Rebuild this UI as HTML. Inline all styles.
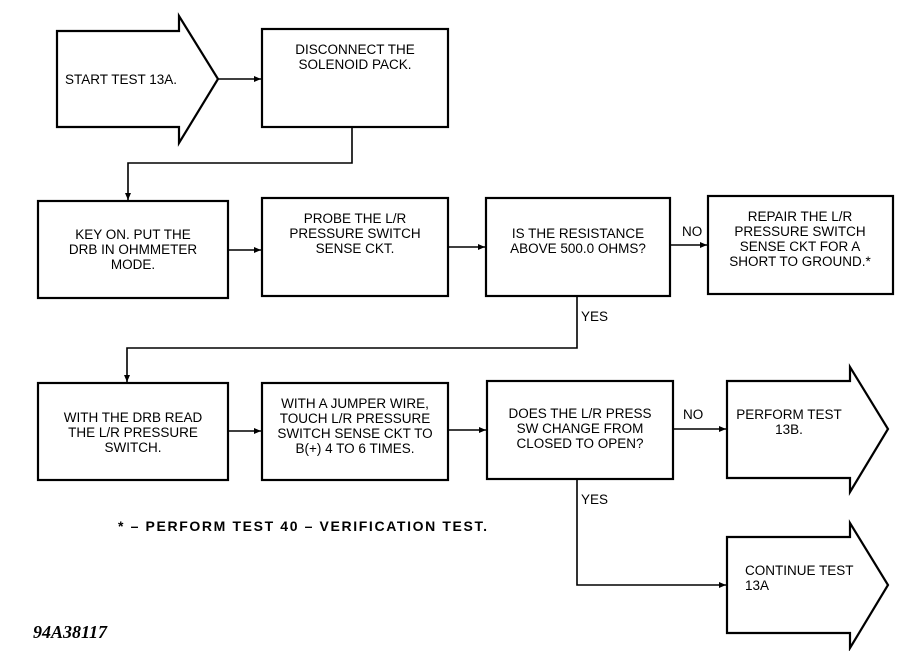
<!DOCTYPE html>
<html><head><meta charset="utf-8"><style>
html,body{margin:0;padding:0;background:#fff;}
svg{display:block;}
text{font-family:"Liberation Sans",sans-serif;font-size:13.5px;fill:#000;}
</style></head><body>
<svg width="910" height="651" viewBox="0 0 910 651" xmlns="http://www.w3.org/2000/svg">
<defs><marker id="a" markerWidth="8" markerHeight="8" refX="7" refY="4" orient="auto" markerUnits="userSpaceOnUse"><path d="M0,1 L7,4 L0,7 z" fill="#000"/></marker></defs>
<g fill="none" stroke="#000" stroke-width="2.2">
<polygon points="57,31 179,31 179,16 218,79 179,143 179,127 57,127"/>
<rect x="262" y="29" width="186" height="98"/>
<rect x="38" y="201" width="190" height="97"/>
<rect x="262" y="198" width="186" height="98"/>
<rect x="486" y="198" width="184" height="98"/>
<rect x="708" y="196" width="185" height="98"/>
<rect x="38" y="383" width="190" height="97"/>
<rect x="262" y="383" width="186" height="97"/>
<rect x="487" y="381" width="186" height="98"/>
<polygon points="727,381 850,381 850,367 888,429 850,492 850,478 727,478"/>
<polygon points="727,537 850,537 850,523 888,585 850,648 850,633 727,633"/>
</g>
<g fill="none" stroke="#000" stroke-width="1.6">
<line x1="218" y1="79" x2="261" y2="79" marker-end="url(#a)"/>
<polyline points="352,127 352,163 128,163 128,200" marker-end="url(#a)"/>
<line x1="228" y1="250" x2="261" y2="250" marker-end="url(#a)"/>
<line x1="448" y1="247" x2="485" y2="247" marker-end="url(#a)"/>
<line x1="670" y1="245" x2="707" y2="245" marker-end="url(#a)"/>
<polyline points="577,296 577,348 127,348 127,382" marker-end="url(#a)"/>
<line x1="228" y1="431" x2="261" y2="431" marker-end="url(#a)"/>
<line x1="448" y1="430" x2="486" y2="430" marker-end="url(#a)"/>
<line x1="673" y1="429" x2="726" y2="429" marker-end="url(#a)"/>
<polyline points="577,479 577,585 726,585" marker-end="url(#a)"/>
</g>
<g text-anchor="middle">
<text x="121" y="84">START TEST 13A.</text>
<text x="355" y="54">DISCONNECT THE</text><text x="355" y="69">SOLENOID PACK.</text>
<text x="133" y="239">KEY ON. PUT THE</text><text x="133" y="254">DRB IN OHMMETER</text><text x="133" y="269">MODE.</text>
<text x="355" y="223">PROBE THE L/R</text><text x="355" y="238">PRESSURE SWITCH</text><text x="355" y="253">SENSE CKT.</text>
<text x="578" y="238">IS THE RESISTANCE</text><text x="578" y="253">ABOVE 500.0 OHMS?</text>
<text x="800" y="221">REPAIR THE L/R</text><text x="800" y="236">PRESSURE SWITCH</text><text x="800" y="251">SENSE CKT FOR A</text><text x="800" y="266">SHORT TO GROUND.*</text>
<text x="133" y="422">WITH THE DRB READ</text><text x="133" y="437">THE L/R PRESSURE</text><text x="133" y="452">SWITCH.</text>
<text x="355" y="408">WITH A JUMPER WIRE,</text><text x="355" y="423">TOUCH L/R PRESSURE</text><text x="355" y="438">SWITCH SENSE CKT TO</text><text x="355" y="453">B(+) 4 TO 6 TIMES.</text>
<text x="580" y="418">DOES THE L/R PRESS</text><text x="580" y="433">SW CHANGE FROM</text><text x="580" y="448">CLOSED TO OPEN?</text>
<text x="789" y="419">PERFORM TEST</text><text x="789" y="434">13B.</text>
</g>
<text x="745" y="575">CONTINUE TEST</text><text x="745" y="590">13A</text>
<text x="682" y="236">NO</text><text x="683" y="419">NO</text>
<text x="581" y="321">YES</text><text x="581" y="504">YES</text>
<text x="118" y="531" textLength="369" lengthAdjust="spacing" style="font-weight:bold;font-size:14px">*  –  PERFORM TEST 40  –  VERIFICATION TEST.</text>
<text x="33" y="638" style="font-family:'Liberation Serif',serif;font-style:italic;font-weight:bold;font-size:18px">94A38117</text>
</svg>
</body></html>
